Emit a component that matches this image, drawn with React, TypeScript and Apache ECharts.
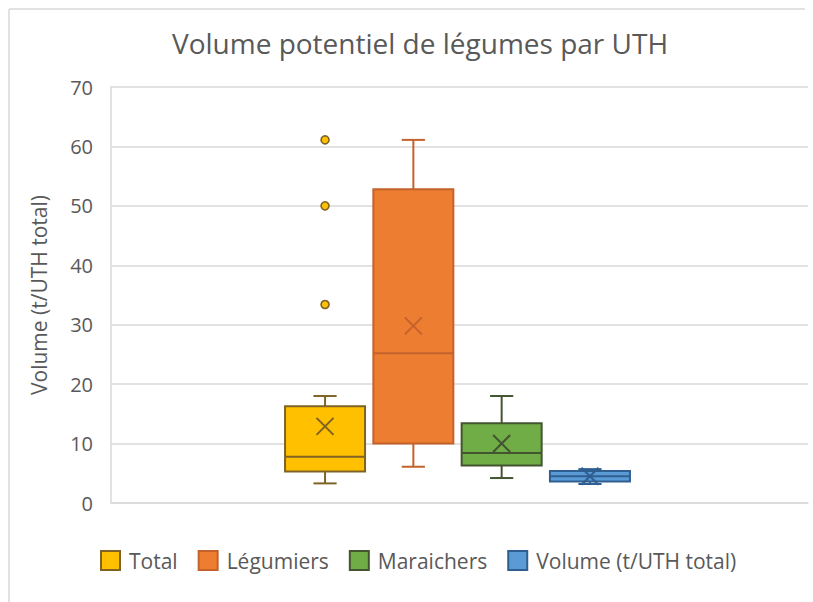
import React, { useEffect, useRef } from 'react';
import * as echarts from 'echarts';

const seriesNames = ['Total', 'Légumiers', 'Maraichers', 'Volume (t/UTH total)'];
const minValues = [3.3, 6.1, 4.2, 3.2];
const q1Values = [5.3, 10.0, 6.3, 3.6];
const medianValues = [7.8, 25.2, 8.4, 4.5];
const q3Values = [16.3, 52.8, 13.4, 5.4];
const maxValues = [18.0, 61.1, 18.0, 5.7];
const meanValues = [12.9, 29.8, 10.0, 4.5];
const totalOutliers = [33.4, 50.0, 61.1];
const yMin = 0;
const yMax = 70;
const yInterval = 10;
const titleText = 'Volume potentiel de légumes par UTH';
const yAxisName = 'Volume (t/UTH total)';

const fillColors = ['#FFC000', '#ED7D31', '#70AD47', '#5B9BD5'];
const lineColors = ['#7F6326', '#C4622B', '#43552F', '#2F5E91'];
const FONT = "'Open Sans', sans-serif";
const TEXT_COLOR = '#595959';
const GRID_COLOR = '#d9d9d9';

const BOX_FRAC = 80 / 697;
const GAP_FRAC = 8.3 / 697;
const GROUP_SHIFT_FRAC = -2 / 697;

function boxLayout(api: any, idx: number) {
  const band = api.size([1, 0])[0];
  const center = api.coord([0, 0])[0] + band * GROUP_SHIFT_FRAC;
  const bw = band * BOX_FRAC;
  const gap = band * GAP_FRAC;
  const n = seriesNames.length;
  const groupW = n * bw + (n - 1) * gap;
  const cx = center - groupW / 2 + bw / 2 + idx * (bw + gap);
  return { cx, bw };
}

export default function App() {
  const ref = useRef<HTMLDivElement>(null);
  useEffect(() => {
    document.body.style.margin = '0';
    const chart = echarts.init(ref.current!, undefined, { renderer: 'svg' });

    const boxSeries = seriesNames.map((name, idx) => ({
      name,
      type: 'custom',
      coordinateSystem: 'cartesian2d',
      itemStyle: { color: fillColors[idx], borderColor: lineColors[idx] },
      encode: { x: 0, y: [1, 2, 3, 4, 5] },
      data: [[0, minValues[idx], q1Values[idx], medianValues[idx], q3Values[idx], maxValues[idx], meanValues[idx]]],
      renderItem: (_params: any, api: any) => {
        const { cx, bw } = boxLayout(api, idx);
        const y = (v: number) => api.coord([0, v])[1];
        const yLo = y(api.value(1));
        const yQ1 = y(api.value(2));
        const yMed = y(api.value(3));
        const yQ3 = y(api.value(4));
        const yHi = y(api.value(5));
        const yMean = y(api.value(6));
        const half = bw / 2;
        const cap = bw * 0.145;
        const xs = 8.5;
        const ls = { stroke: lineColors[idx], lineWidth: 2 };
        return {
          type: 'group',
          children: [
            { type: 'line', shape: { x1: cx, y1: yHi, x2: cx, y2: yQ3 }, style: ls },
            { type: 'line', shape: { x1: cx, y1: yQ1, x2: cx, y2: yLo }, style: ls },
            { type: 'line', shape: { x1: cx - cap, y1: yHi, x2: cx + cap, y2: yHi }, style: ls },
            { type: 'line', shape: { x1: cx - cap, y1: yLo, x2: cx + cap, y2: yLo }, style: ls },
            {
              type: 'rect',
              shape: { x: cx - half, y: yQ3, width: bw, height: yQ1 - yQ3 },
              style: { fill: fillColors[idx], stroke: lineColors[idx], lineWidth: 2 },
            },
            { type: 'line', shape: { x1: cx - half, y1: yMed, x2: cx + half, y2: yMed }, style: ls },
            { type: 'line', shape: { x1: cx - xs, y1: yMean - xs, x2: cx + xs, y2: yMean + xs }, style: ls },
            { type: 'line', shape: { x1: cx - xs, y1: yMean + xs, x2: cx + xs, y2: yMean - xs }, style: ls },
          ],
        };
      },
    }));

    const outlierSeries = {
      name: 'Total',
      type: 'custom',
      coordinateSystem: 'cartesian2d',
      encode: { x: 0, y: 1 },
      itemStyle: { color: fillColors[0], borderColor: lineColors[0] },
      data: totalOutliers.map((v) => [0, v]),
      renderItem: (_params: any, api: any) => {
        const { cx } = boxLayout(api, 0);
        const cy = api.coord([0, api.value(1)])[1];
        return {
          type: 'circle',
          shape: { cx, cy, r: 4 },
          style: { fill: fillColors[0], stroke: lineColors[0], lineWidth: 1.6 },
        };
      },
    };

    chart.setOption({
      animation: false,
      backgroundColor: '#ffffff',
      title: {
        text: titleText,
        left: 420,
        top: 29,
        padding: 0,
        textAlign: 'center',
        textStyle: { fontFamily: FONT, fontSize: 28, fontWeight: 'normal', color: TEXT_COLOR },
      },
      graphic: [
        {
          type: 'line',
          z: -10,
          silent: true,
          shape: { x1: 9, y1: 9, x2: 9, y2: 602 },
          style: { stroke: GRID_COLOR, lineWidth: 1.5 },
        },
        {
          type: 'line',
          z: -10,
          silent: true,
          shape: { x1: 9, y1: 9, x2: 805, y2: 9 },
          style: { stroke: GRID_COLOR, lineWidth: 1.5 },
        },
      ],
      legend: {
        left: 100,
        top: 550,
        padding: 0,
        icon: 'rect',
        itemWidth: 19,
        itemHeight: 19,
        itemGap: 20,
        textStyle: { fontFamily: FONT, fontSize: 21, color: TEXT_COLOR, padding: [0, 0, 0, 4] },
        data: seriesNames.map((name, idx) => ({
          name,
          itemStyle: { color: fillColors[idx], borderColor: lineColors[idx], borderWidth: 2 },
        })),
      },
      grid: { left: 111, right: 5, top: 87, bottom: 99 },
      xAxis: {
        type: 'category',
        data: [''],
        axisLine: { show: true, lineStyle: { color: GRID_COLOR, width: 1.5 } },
        axisTick: { show: false },
        axisLabel: { show: false },
        splitLine: { show: false },
      },
      yAxis: {
        type: 'value',
        min: yMin,
        max: yMax,
        interval: yInterval,
        name: yAxisName,
        nameLocation: 'middle',
        nameGap: 62,
        nameTextStyle: { fontFamily: FONT, fontSize: 21, color: TEXT_COLOR },
        axisLine: { show: true, lineStyle: { color: GRID_COLOR, width: 1.5 } },
        axisTick: { show: false },
        axisLabel: { fontFamily: FONT, fontSize: 20, color: TEXT_COLOR, margin: 18 },
        splitLine: { show: true, lineStyle: { color: GRID_COLOR, width: 1.5 } },
      },
      series: [...boxSeries, outlierSeries],
    });
    return () => chart.dispose();
  }, []);
  return <div ref={ref} style={{ width: 813, height: 602 }} />;
}
